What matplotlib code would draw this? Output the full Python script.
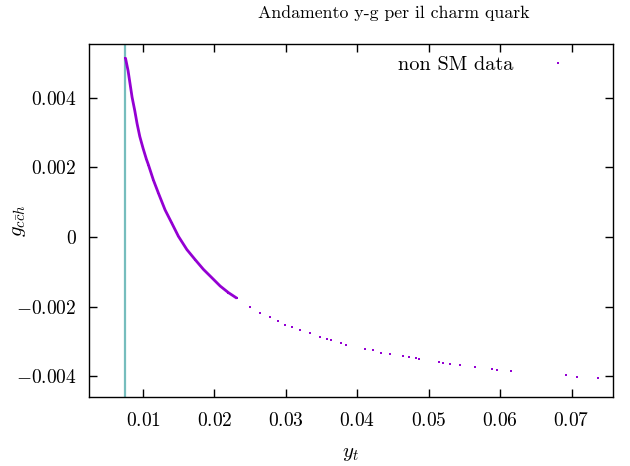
import matplotlib
matplotlib.use("Agg")
import matplotlib.pyplot as plt
from matplotlib.ticker import FixedLocator, FuncFormatter

plt.rcParams["font.family"] = "serif"
plt.rcParams["font.serif"] = ["cmr10", "DejaVu Serif"]
plt.rcParams["mathtext.fontset"] = "cm"
plt.rcParams["axes.unicode_minus"] = True

# dense branch (points merge into a continuous trace)
y_dense = [0.00752, 0.00790, 0.00818, 0.00846, 0.00884, 0.00916, 0.00954, 0.01000,
           0.01046, 0.01074, 0.01144, 0.01215, 0.01308, 0.01402, 0.01495, 0.01613,
           0.01729, 0.01845, 0.01963, 0.02080, 0.02196, 0.02314]
g_dense = [0.00516, 0.00478, 0.00440, 0.00402, 0.00363, 0.00326, 0.00289, 0.00255,
           0.00224, 0.00208, 0.00164, 0.00126, 0.00078, 0.00040, 0.00002, -0.00036,
           -0.00065, -0.00093, -0.00117, -0.00141, -0.00160, -0.00176]

# sparse branch
y_sparse = [0.02500, 0.02640, 0.02780, 0.02888, 0.02991, 0.03085, 0.03201, 0.03331,
            0.03481, 0.03575, 0.03636, 0.03772, 0.03842, 0.04112, 0.04220, 0.04337,
            0.04463, 0.04635, 0.04719, 0.04823, 0.04869, 0.05140, 0.05202, 0.05304,
            0.05444, 0.05645, 0.05879, 0.05959, 0.06145, 0.06926, 0.07080, 0.07369]
g_sparse = [-0.00200, -0.00217, -0.00231, -0.00241, -0.00253, -0.00260, -0.00268, -0.00277,
            -0.00287, -0.00293, -0.00296, -0.00306, -0.00309, -0.00321, -0.00326, -0.00333,
            -0.00337, -0.00343, -0.00346, -0.00349, -0.00351, -0.00360, -0.00361, -0.00365,
            -0.00369, -0.00373, -0.00378, -0.00381, -0.00385, -0.00398, -0.00401, -0.00406]

y_sm = 0.00740  # vertical reference line
x_ticks = [0.01, 0.02, 0.03, 0.04, 0.05, 0.06, 0.07]
g_ticks = [-0.004, -0.002, 0, 0.002, 0.004]

PURPLE = "#9400d3"

fig = plt.figure(figsize=(6.3, 4.66), dpi=100)
ax = fig.add_axes([0.1413, 0.148, 0.8317, 0.7576])

ax.axvline(y_sm, color="#76bdbd", linewidth=1.6, zorder=1)
ax.plot(y_dense, g_dense, color=PURPLE, linewidth=2.0, solid_joinstyle="round",
        solid_capstyle="butt", zorder=2)
ax.plot(y_dense + y_sparse, g_dense + g_sparse, linestyle="none", marker="s",
        markersize=1.8, markeredgewidth=0, color=PURPLE, label="non SM data", zorder=3)

ax.set_xlim(0.00243, 0.0758)
ax.set_ylim(-0.0046, 0.00555)

fmt = FuncFormatter(lambda v, p: "$%s$" % ("0" if v == 0 else ("%g" % v)))
ax.xaxis.set_major_locator(FixedLocator(x_ticks))
ax.yaxis.set_major_locator(FixedLocator(g_ticks))
ax.xaxis.set_major_formatter(fmt)
ax.yaxis.set_major_formatter(fmt)
ax.tick_params(direction="in", length=6, width=1, top=True, right=True, labelsize=14)
ax.tick_params(axis="x", pad=11)
ax.tick_params(axis="y", pad=9)
for s in ax.spines.values():
    s.set_linewidth(1)

ax.set_title("Andamento y-g per il charm quark", fontsize=12.8, pad=19, x=0.582)
ax.set_xlabel(r"$y_t$", fontsize=15)
ax.xaxis.set_label_coords(0.5, -0.135)
ax.set_ylabel(r"$g_{c\bar{c}h}$", fontsize=15)
ax.yaxis.set_label_coords(-0.116, 0.5)

ax.legend(loc="upper right", frameon=False, markerfirst=False, fontsize=14.6,
          handlelength=2.0, handletextpad=1.2, borderaxespad=0.2,
          bbox_to_anchor=(0.957, 1.0))

fig.savefig("out.png", dpi=100)
